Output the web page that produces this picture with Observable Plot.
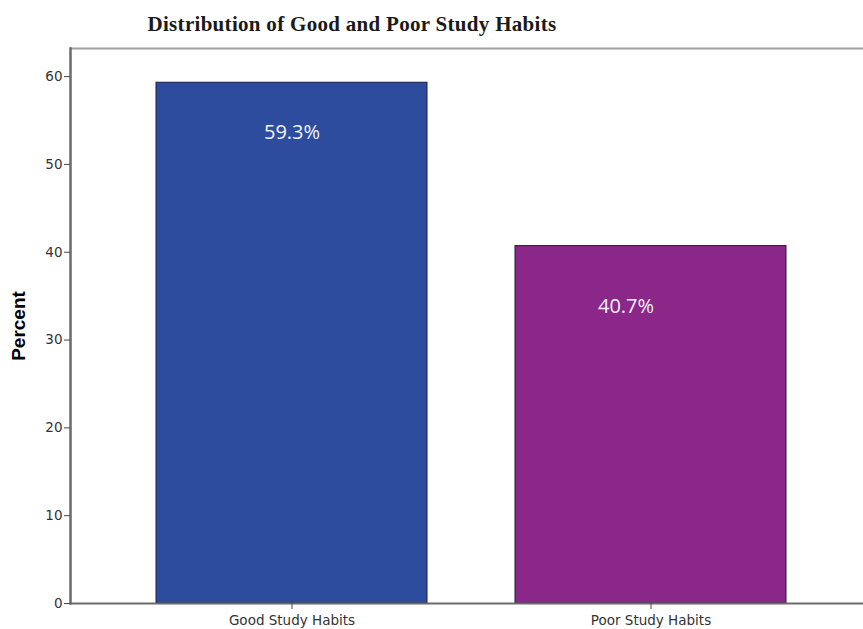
<!DOCTYPE html>
<html><head><meta charset="utf-8">
<script src="https://cdn.jsdelivr.net/npm/d3@7"></script>
<script src="https://cdn.jsdelivr.net/npm/@observablehq/plot@0.6"></script>
<style>
body{margin:0;background:#fff;}
#title{height:46px;width:704px;text-align:center;font:bold 21px "Liberation Serif","Times New Roman",serif;letter-spacing:0.3px;line-height:48px;color:#1a1a1a;}
#chart svg{display:block;overflow:visible;}
#chart [aria-label="y-axis label"] text{font-weight:bold;font-family:"Liberation Sans",Arial,sans-serif;font-size:19px;fill:#000;}
</style></head><body>
<div id="title">Distribution of Good and Poor Study Habits</div>
<div id="chart"></div>
<script>
const categories = ["Good Study Habits", "Poor Study Habits"];
const percents = [59.3, 40.7];
const labels = ["59.3%", "40.7%"];
const colors = ["#2E4C9E", "#8A2788"];
const yTicks = [0, 10, 20, 30, 40, 50, 60];
const yMax = 63.2;

const data = categories.map((c, i) => ({category: c, percent: percents[i], label: labels[i]}));

const plot = Plot.plot({
  width: 863,
  height: 583,
  marginTop: 2,
  marginBottom: 26,
  marginLeft: 70,
  marginRight: 0,
  style: {fontFamily: "DejaVu Sans, sans-serif", fontSize: "13.5px", color: "#333", background: "#fff", overflow: "visible"},
  x: {domain: categories, range: [70, 872], paddingInner: 0.244, paddingOuter: 0.236, label: null},
  y: {domain: [0, yMax], ticks: yTicks, label: "Percent"},
  color: {domain: categories, range: colors},
  marks: [
    Plot.barY(data, {x: "category", y: "percent", fill: "category", stroke: "#1c1c3a", strokeWidth: 1}),
    Plot.text(data.filter(d => d.category === categories[0]), {x: "category", y: "percent", text: "label", dy: 50, fill: "#f2f2fa", fontSize: 20, fontFamily: "Open Sans, sans-serif"}),
    Plot.text(data.filter(d => d.category === categories[1]), {x: "category", y: "percent", text: "label", dy: 61, dx: -25, fill: "#f2f2fa", fontSize: 20, fontFamily: "Open Sans, sans-serif"}),
    Plot.ruleY([yMax], {stroke: "#a0a0a0", strokeWidth: 2}),
    Plot.ruleY([0], {stroke: "#6a6a6a", strokeWidth: 2}),
    Plot.frame({anchor: "left", stroke: "#6a6a6a", strokeWidth: 2.5}),
    Plot.axisY({ticks: yTicks, tickSize: 6, tickPadding: 2, label: "Percent", labelAnchor: "center", labelArrow: "none", labelOffset: 59, stroke: "#444"}),
    Plot.axisX({tickSize: 6, tickPadding: 6, stroke: "#444"})
  ]
});
document.getElementById("chart").append(plot);
</script>
</body></html>
